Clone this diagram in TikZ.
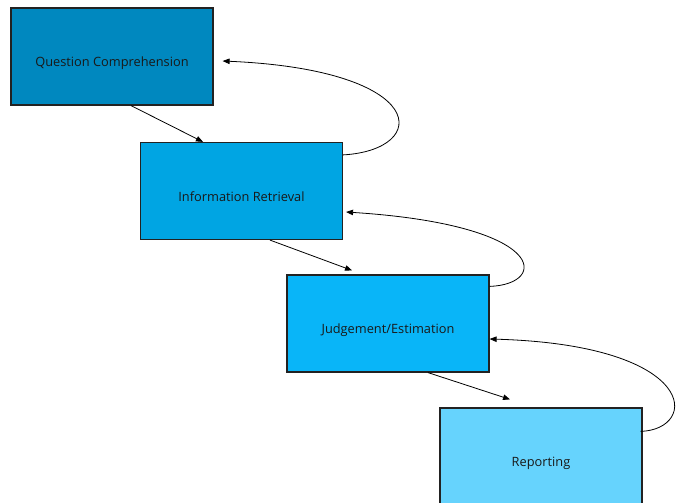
\documentclass[tikz,border=0pt]{standalone}
\usepackage{fontspec}
\setmainfont{Open Sans}
\usetikzlibrary{arrows.meta}
\definecolor{cqc}{HTML}{0088BF}
\definecolor{cir}{HTML}{00A5E3}
\definecolor{cje}{HTML}{09B5F8}
\definecolor{crp}{HTML}{66D3FD}
\definecolor{edge}{HTML}{222222}
\begin{document}
\begin{tikzpicture}[x=1pt,y=-1pt,
  box/.style={draw=edge, line width=1.2pt, minimum width=202pt, minimum height=97pt,
    inner sep=0pt, text=black!90, font=\fontsize{12.8}{15}\selectfont,
    text height=20pt, text depth=0pt},
  flow/.style={draw=black, line width=0.8pt, -{Triangle[length=7pt,width=5.5pt]}}]
\useasboundingbox (0,0) rectangle (678,503);
\clip (0,0) rectangle (678,503);
\fill[white] (0,0) rectangle (678,503);
\node[box, fill=cqc] (qc) at (112,56.5) {Question Comprehension};
\node[box, fill=cir] (ir) at (241.5,191) {Information Retrieval};
\node[box, fill=cje] (je) at (388,323.5) {Judgement/Estimation};
\node[box, fill=crp] (rp) at (541,456.5) {Reporting};
% forward arrows
\draw[flow] ([xshift=19pt]qc.south) -- ([xshift=-38.5pt]ir.north);
\draw[flow] ([xshift=28.5pt]ir.south) -- ([xshift=-36pt,yshift=4pt]je.north);
\draw[flow] ([xshift=40pt]je.south) -- ([xshift=-31pt,yshift=8pt]rp.north);
% feedback arrows
\draw[flow] ([yshift=-13pt]ir.north east) .. controls +(88,-5) and +(208,9) .. ([xshift=9pt,yshift=-4.5pt]qc.east);
\draw[flow] ([yshift=-12pt]je.north east) .. controls +(59,-2) and +(203,13) .. ([xshift=3pt,yshift=-21pt]ir.east);
\draw[flow] ([xshift=-2pt,yshift=-24pt]rp.north east) .. controls +(59,-2) and +(210,6) .. ([yshift=-15.5pt]je.east);
\end{tikzpicture}
\end{document}
